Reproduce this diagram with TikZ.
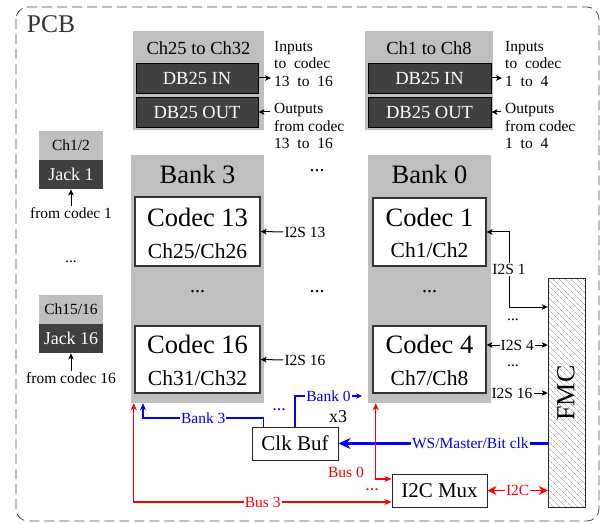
\documentclass[tikz,border=0pt]{standalone}
\usepackage{fontspec}
\setmainfont{Liberation Serif}
\usetikzlibrary{arrows.meta,patterns.meta,calc}
\definecolor{lgray}{RGB}{191,191,191}
\definecolor{dgray}{RGB}{64,64,64}
\definecolor{bl}{RGB}{0,0,255}
\definecolor{rd}{RGB}{255,0,0}
\newcommand{\fsz}[2]{\fontsize{#1}{#2}\selectfont}
\begin{document}
\begin{tikzpicture}[x=1pt,y=-1pt,
  graybox/.style={fill=lgray,draw=none,inner sep=0pt},
  darkbox/.style={fill=dgray,draw=black,line width=0.8pt,text=white,inner sep=0pt,font=\fsz{18.5}{20}},
  codecbox/.style={fill=white,draw=black!80,line width=1.1pt,inner sep=0pt},
  plainbox/.style={fill=white,draw=black!85,line width=1pt,inner sep=0pt,font=\fsz{21}{23}},
  txt/.style={inner sep=0pt},
  annot/.style={inner sep=0pt,align=left,anchor=west,font=\fsz{15.5}{17.5}},
  lbl/.style={fill=white,inner sep=1pt,font=\fsz{15.5}{17}},
  tip/.style={-{Stealth[length=6pt,width=5.5pt,inset=1.5pt]},line width=1pt},
  dtip/.style={{Stealth[length=6pt,width=5.5pt,inset=1.5pt]}-{Stealth[length=6pt,width=5.5pt,inset=1.5pt]},line width=1pt},
  bline/.style={draw=bl,line width=1.2pt},
  rline/.style={draw=rd,line width=1.2pt},
  blbl/.style={lbl,text=bl},
  rlbl/.style={lbl,text=rd},
]
\useasboundingbox (0,0) rectangle (603,524);
% PCB frame
\draw[black!70,line width=0.8pt,dash pattern=on 10pt off 5pt,rounded corners=12pt] (16,7) rectangle (599,521);
\node[txt,font=\fsz{25.5}{27},text=black!80] (pcb) at (51,24) {PCB};

% DB25 group left
\node[graybox,minimum width=131pt,minimum height=99pt] (grpL) at (198.5,80.5) {};
\node[txt,font=\fsz{18.5}{20}] (hdrL) at (198.5,48) {Ch25 to Ch32};
\node[darkbox,minimum width=122pt,minimum height=30pt] (dbinL) at (197,78) {DB25 IN};
\node[darkbox,minimum width=122pt,minimum height=30pt] (dboutL) at (197,112) {DB25 OUT};
\node[annot] (inL) at (274,64) {Inputs\\to~~codec\\13~~to~~16};
\node[annot] (outL) at (274,126) {Outputs\\from codec\\13~~to~~16};
\draw[tip,shorten >=3pt] (dbinL.east) -- (dbinL.east -| inL.west);
\draw[tip,shorten <=4pt] (outL.west |- dboutL.east) -- (dboutL.east);

% DB25 group right
\node[graybox,minimum width=128pt,minimum height=99pt] (grpR) at (429,80.5) {};
\node[txt,font=\fsz{18.5}{20}] (hdrR) at (429,48) {Ch1 to Ch8};
\node[darkbox,minimum width=123pt,minimum height=30pt] (dbinR) at (429.5,78) {DB25 IN};
\node[darkbox,minimum width=123pt,minimum height=30pt] (dboutR) at (429.5,112) {DB25 OUT};
\node[annot] (inR) at (505,64) {Inputs\\to~~codec\\1~~to~~4};
\node[annot] (outR) at (505,126) {Outputs\\from codec\\1~~to~~4};
\draw[tip,shorten >=3pt] (dbinR.east) -- (dbinR.east -| inR.west);
\draw[tip,shorten <=4pt] (outR.west |- dboutR.east) -- (dboutR.east);

% Jacks
\node[graybox,minimum width=64pt,minimum height=29pt,font=\fsz{15.5}{17}] (ch12) at (71,145.5) {Ch1/2};
\node[darkbox,draw=none,minimum width=64pt,minimum height=29pt,font=\fsz{18}{20}] (jack1) at (71,174.5) {Jack 1};
\node[txt,font=\fsz{15.5}{17}] (fc1) at (71,213) {from codec 1};
\draw[tip,shorten <=1pt] (fc1.north) -- (jack1.south);
\node[txt,font=\fsz{15.5}{17}] (jdots) at (71,262) {...};
\node[graybox,minimum width=64pt,minimum height=29pt,font=\fsz{15.5}{17}] (ch1516) at (71,309.5) {Ch15/16};
\node[darkbox,draw=none,minimum width=64pt,minimum height=29pt,font=\fsz{18}{20}] (jack16) at (71,338.5) {Jack 16};
\node[txt,font=\fsz{15.5}{17}] (fc16) at (71,378) {from codec 16};
\draw[tip,shorten <=1pt] (fc16.north) -- (jack16.south);

% Bank 3
\node[graybox,minimum width=133pt,minimum height=248pt] (bank3) at (197.5,279) {};
\node[txt,font=\fsz{26.5}{28}] (b3t) at (197.5,174) {Bank 3};
\node[codecbox,minimum width=125pt,minimum height=69pt] (codec13) at (197.5,231.5) {};
\node[txt,font=\fsz{26.5}{28}] (c13a) at (197.5,217) {Codec 13};
\node[txt,font=\fsz{21.5}{23}] (c13b) at (197.5,251) {Ch25/Ch26};
\node[txt,font=\fsz{20}{22}] (b3dots) at (197.5,292) {...};
\node[codecbox,minimum width=125pt,minimum height=67pt] (codec16) at (197.5,359.5) {};
\node[txt,font=\fsz{26.5}{28}] (c16a) at (197.5,344) {Codec 16};
\node[txt,font=\fsz{21.5}{23}] (c16b) at (197.5,378) {Ch31/Ch32};

% middle dots
\node[txt,font=\fsz{20}{22}] (mdots1) at (317,171) {...};
\node[txt,font=\fsz{20}{22}] (mdots2) at (317,292) {...};

% Bank 0
\node[graybox,minimum width=123pt,minimum height=248pt] (bank0) at (429.5,279) {};
\node[txt,font=\fsz{26.5}{28}] (b0t) at (429.5,174) {Bank 0};
\node[codecbox,minimum width=113pt,minimum height=68pt] (codec1) at (429.5,232) {};
\node[txt,font=\fsz{26.5}{28}] (c1a) at (429.5,217) {Codec 1};
\node[txt,font=\fsz{21.5}{23}] (c1b) at (429.5,250) {Ch1/Ch2};
\node[txt,font=\fsz{20}{22}] (b0dots) at (429.5,292) {...};
\node[codecbox,minimum width=113pt,minimum height=67pt] (codec4) at (429.5,359.5) {};
\node[txt,font=\fsz{26.5}{28}] (c4a) at (429.5,344) {Codec 4};
\node[txt,font=\fsz{21.5}{23}] (c4b) at (429.5,378) {Ch7/Ch8};

% I2S to bank 3
\node[txt,font=\fsz{15.5}{17}] (i2s13) at (305,232) {I2S 13};
\draw[tip,shorten <=1pt] (i2s13.west) -- (codec13.east);
\node[txt,font=\fsz{15.5}{17}] (i2s16) at (305,360) {I2S 16};
\draw[tip,shorten <=1pt] (i2s16.west) -- (codec16.east);

% FMC
\node[draw=black!85,line width=1pt,minimum width=37pt,minimum height=229pt,inner sep=0pt,
  pattern={Lines[angle=-45,distance=4pt,line width=0.4pt]},pattern color=black!45] (fmc) at (566.5,392.5) {};
\node[txt,rotate=90,font=\fsz{26}{28}] (fmct) at (566,393) {FMC};

% I2S to bank 0
\coordinate (t1) at (509,307);
\draw[dtip] (codec1.east) -| node[pos=0.75,lbl]{I2S 1} (t1) -- (t1 -| fmc.west);
\node[txt,font=\fsz{15.5}{17}] (fdots1) at (513,320) {...};
\coordinate (c4r) at ($(codec4.east)+(0,-14.5)$);
\draw[dtip] (c4r) -- node[lbl]{I2S 4} (c4r -| fmc.west);
\node[txt,font=\fsz{15.5}{17}] (fdots2) at (513,366) {...};
\node[txt,font=\fsz{15.5}{17}] (i2s16f) at (512,393) {I2S 16};
\draw[tip,shorten <=1pt] (i2s16f.east) -- (i2s16f.east -| fmc.west);

% Clk Buf and I2C Mux
\node[plainbox,minimum width=86pt,minimum height=33pt] (clkbuf) at (295,443.5) {Clk Buf};
\node[plainbox,minimum width=95pt,minimum height=33pt] (mux) at (439.5,490.5) {I2C Mux};

% clock
\draw[draw=bl,line width=2.5pt,-{Stealth[length=12pt,width=11pt]}] (fmc.west |- clkbuf.east) -- node[pos=0.37,blbl]{WS/Master/Bit clk} (clkbuf.east);
\coordinate (b0end) at (362,396);
\draw[bline,-{Stealth[length=6pt,width=5.5pt]}] (clkbuf.north) |- node[pos=0.75,blbl]{Bank 0} (b0end);
\coordinate (cbl) at ($(clkbuf.north west)+(12,0)$);
\coordinate (b3c) at (143,418);
\draw[bline,-{Stealth[length=7pt,width=6pt,inset=2pt]}] (cbl) |- node[pos=0.75,blbl]{Bank 3} (b3c) -- (b3c |- bank3.south);
\node[txt,text=bl,font=\fsz{18}{20}] (bdots) at (279,410) {...};
\node[txt,font=\fsz{18}{20}] (x3) at (338,417) {x3};

% I2C buses
\coordinate (bus0top) at ($(bank0.south west)+(8,0)$);
\coordinate (mux0) at ($(mux.west)+(0,-11.5)$);
\draw[rline,{Stealth[length=7pt,width=6pt,inset=2pt]}-{Stealth[length=7pt,width=6pt,inset=2pt]}] (bus0top) |- (mux0);
\node[txt,text=rd,font=\fsz{15.5}{17}] (bus0l) at (346,472) {Bus 0};
\coordinate (bus3top) at ($(bank3.south west)+(3,0)$);
\coordinate (mux3) at ($(mux.west)+(0,11.5)$);
\draw[rline,{Stealth[length=7pt,width=6pt,inset=2pt]}-{Stealth[length=7pt,width=6pt,inset=2pt]}] (bus3top) |- node[pos=0.75,rlbl]{Bus 3} (mux3);
\node[txt,text=rd,font=\fsz{18}{20}] (rdots) at (372,490) {...};
\draw[draw=rd,line width=1.8pt,{Stealth[length=9pt,width=9pt]}-{Stealth[length=9pt,width=9pt]}] (mux.east) -- node[rlbl]{I2C} (mux.east -| fmc.west);
\end{tikzpicture}
\end{document}
